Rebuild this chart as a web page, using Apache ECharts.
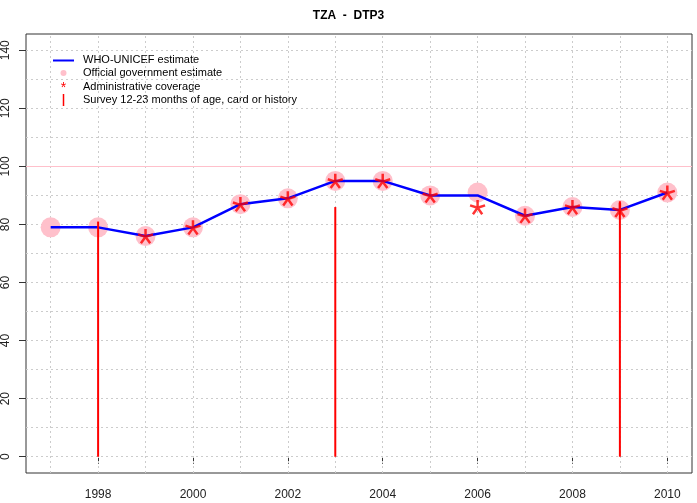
<!DOCTYPE html>
<html>
<head>
<meta charset="utf-8">
<script src="https://cdn.jsdelivr.net/npm/echarts@6/dist/echarts.min.js"></script>
<style>
html,body{margin:0;padding:0;background:#fff;}
#chart{width:697px;height:503px;}
</style>
</head>
<body>
<div id="chart"></div>
<script>
const titleText = 'TZA  -  DTP3';
const years = [1997,1998,1999,2000,2001,2002,2003,2004,2005,2006,2007,2008,2009,2010];
const whoUnicef = [79,79,76,79,87,89,95,95,90,90,83,86,85,91];
const official = [79,79,76,79,87,89,95,95,90,91,83,86,85,91];
const admin = [null,null,76,79,87,89,95,95,90,86,83,86,85,91];
const surveyYears = [1998,2003,2009];
const surveyValues = [81,86,88];
const xTickLabels = [1998,2000,2002,2004,2006,2008,2010];
const yTickLabels = [0,20,40,60,80,100,120,140];
const hGridValues = [0,10,20,30,40,50,60,70,80,90,100,110,120,130,140];
const legendLabels = ['WHO-UNICEF estimate','Official government estimate','Administrative coverage','Survey 12-23 months of age, card or history'];
const refLine = 100;

const chart = echarts.init(document.getElementById('chart'), null, {renderer:'canvas'});
const FONT = 'Liberation Sans, Arial, sans-serif';
const starPath = 'path://M10,0L10,10M0.49,6.91L10,10M19.51,6.91L10,10M4.12,18.09L10,10M15.88,18.09L10,10';

const gridMarkData = years.map(y => ({xAxis: y})).concat(hGridValues.map(v => ({yAxis: v})));

const option = {
  animation: false,
  backgroundColor: '#fff',
  title: {
    text: titleText, left: 'center', top: 5,
    textStyle: {fontFamily: FONT, fontSize: 12, fontWeight: 'bold', color: '#000'}
  },
  grid: {left: 26, right: 5, top: 34, bottom: 30, show: true, borderColor: '#333', borderWidth: 1, backgroundColor: 'transparent'},
  xAxis: {
    type: 'value', min: 1996.48, max: 2010.52,
    axisLine: {show: false},
    splitLine: {show: false},
    axisTick: {show: true, length: 7, customValues: xTickLabels, lineStyle: {color: '#333'}},
    axisLabel: {customValues: xTickLabels, margin: 16, fontFamily: FONT, fontSize: 12, color: '#222', formatter: v => String(v)}
  },
  yAxis: {
    type: 'value', min: -5.6, max: 145.6,
    axisLine: {show: false},
    splitLine: {show: false},
    axisTick: {show: true, length: 7, customValues: yTickLabels, lineStyle: {color: '#333'}},
    axisLabel: {customValues: yTickLabels, rotate: 90, margin: 14, fontFamily: FONT, fontSize: 12, color: '#222', formatter: v => String(v)}
  },
  graphic: [
    {type: 'line', shape: {x1: 53, y1: 60.5, x2: 74, y2: 60.5}, style: {stroke: '#0000ff', lineWidth: 2}},
    {type: 'circle', shape: {cx: 63.5, cy: 73, r: 3}, style: {fill: '#ffc0cb'}},
    {type: 'text', x: 63.5, y: 88, style: {text: '*', fill: '#ff0000', font: '14px ' + FONT, textAlign: 'center', textVerticalAlign: 'middle'}},
    {type: 'line', shape: {x1: 63.5, y1: 94, x2: 63.5, y2: 106}, style: {stroke: '#ff0000', lineWidth: 1.5}},
    {type: 'text', x: 83, y: 60, style: {text: legendLabels[0], fill: '#000', font: '11px ' + FONT, textVerticalAlign: 'middle'}},
    {type: 'text', x: 83, y: 73, style: {text: legendLabels[1], fill: '#000', font: '11px ' + FONT, textVerticalAlign: 'middle'}},
    {type: 'text', x: 83, y: 86.5, style: {text: legendLabels[2], fill: '#000', font: '11px ' + FONT, textVerticalAlign: 'middle'}},
    {type: 'text', x: 83, y: 100, style: {text: legendLabels[3], fill: '#000', font: '11px ' + FONT, textVerticalAlign: 'middle'}}
  ],
  series: [
    {
      type: 'line', name: 'grid', data: [], silent: true, z: 1,
      markLine: {
        silent: true, symbol: 'none', label: {show: false}, animation: false, z: 1,
        lineStyle: {color: '#cccccc', type: [2, 3], width: 1},
        data: gridMarkData
      }
    },
    {
      type: 'line', name: 'ref', data: [], silent: true, z: 2,
      markLine: {
        silent: true, symbol: 'none', label: {show: false}, animation: false, z: 2,
        lineStyle: {color: '#ffc0cb', type: 'solid', width: 1.2},
        data: [{yAxis: refLine}]
      }
    },
    {
      type: 'scatter', name: legendLabels[1], z: 3,
      data: years.map((y, i) => [y, official[i]]),
      symbol: 'circle', symbolSize: 20,
      itemStyle: {color: '#ffc0cb', opacity: 1}
    },
    {
      type: 'line', name: legendLabels[0], z: 4,
      data: years.map((y, i) => [y, whoUnicef[i]]),
      showSymbol: false, symbol: 'none',
      lineStyle: {color: '#0000ff', width: 2.5}
    },
    {
      type: 'scatter', name: legendLabels[2], z: 5,
      data: years.map((y, i) => [y, admin[i]]).filter(d => d[1] !== null),
      symbol: starPath, symbolSize: 15, symbolKeepAspect: true,
      itemStyle: {color: 'rgba(0,0,0,0)', borderColor: '#ff0000', borderWidth: 2.5}
    },
    {
      type: 'custom', name: legendLabels[3], z: 6,
      data: surveyYears.map((y, i) => [y, surveyValues[i]]),
      renderItem: function (params, api) {
        const p0 = api.coord([api.value(0), 0]);
        const p1 = api.coord([api.value(0), api.value(1)]);
        return {type: 'line', shape: {x1: p0[0], y1: p0[1], x2: p1[0], y2: p1[1]}, style: {stroke: '#ff0000', lineWidth: 2}};
      }
    }
  ]
};
chart.setOption(option);
</script>
</body>
</html>
